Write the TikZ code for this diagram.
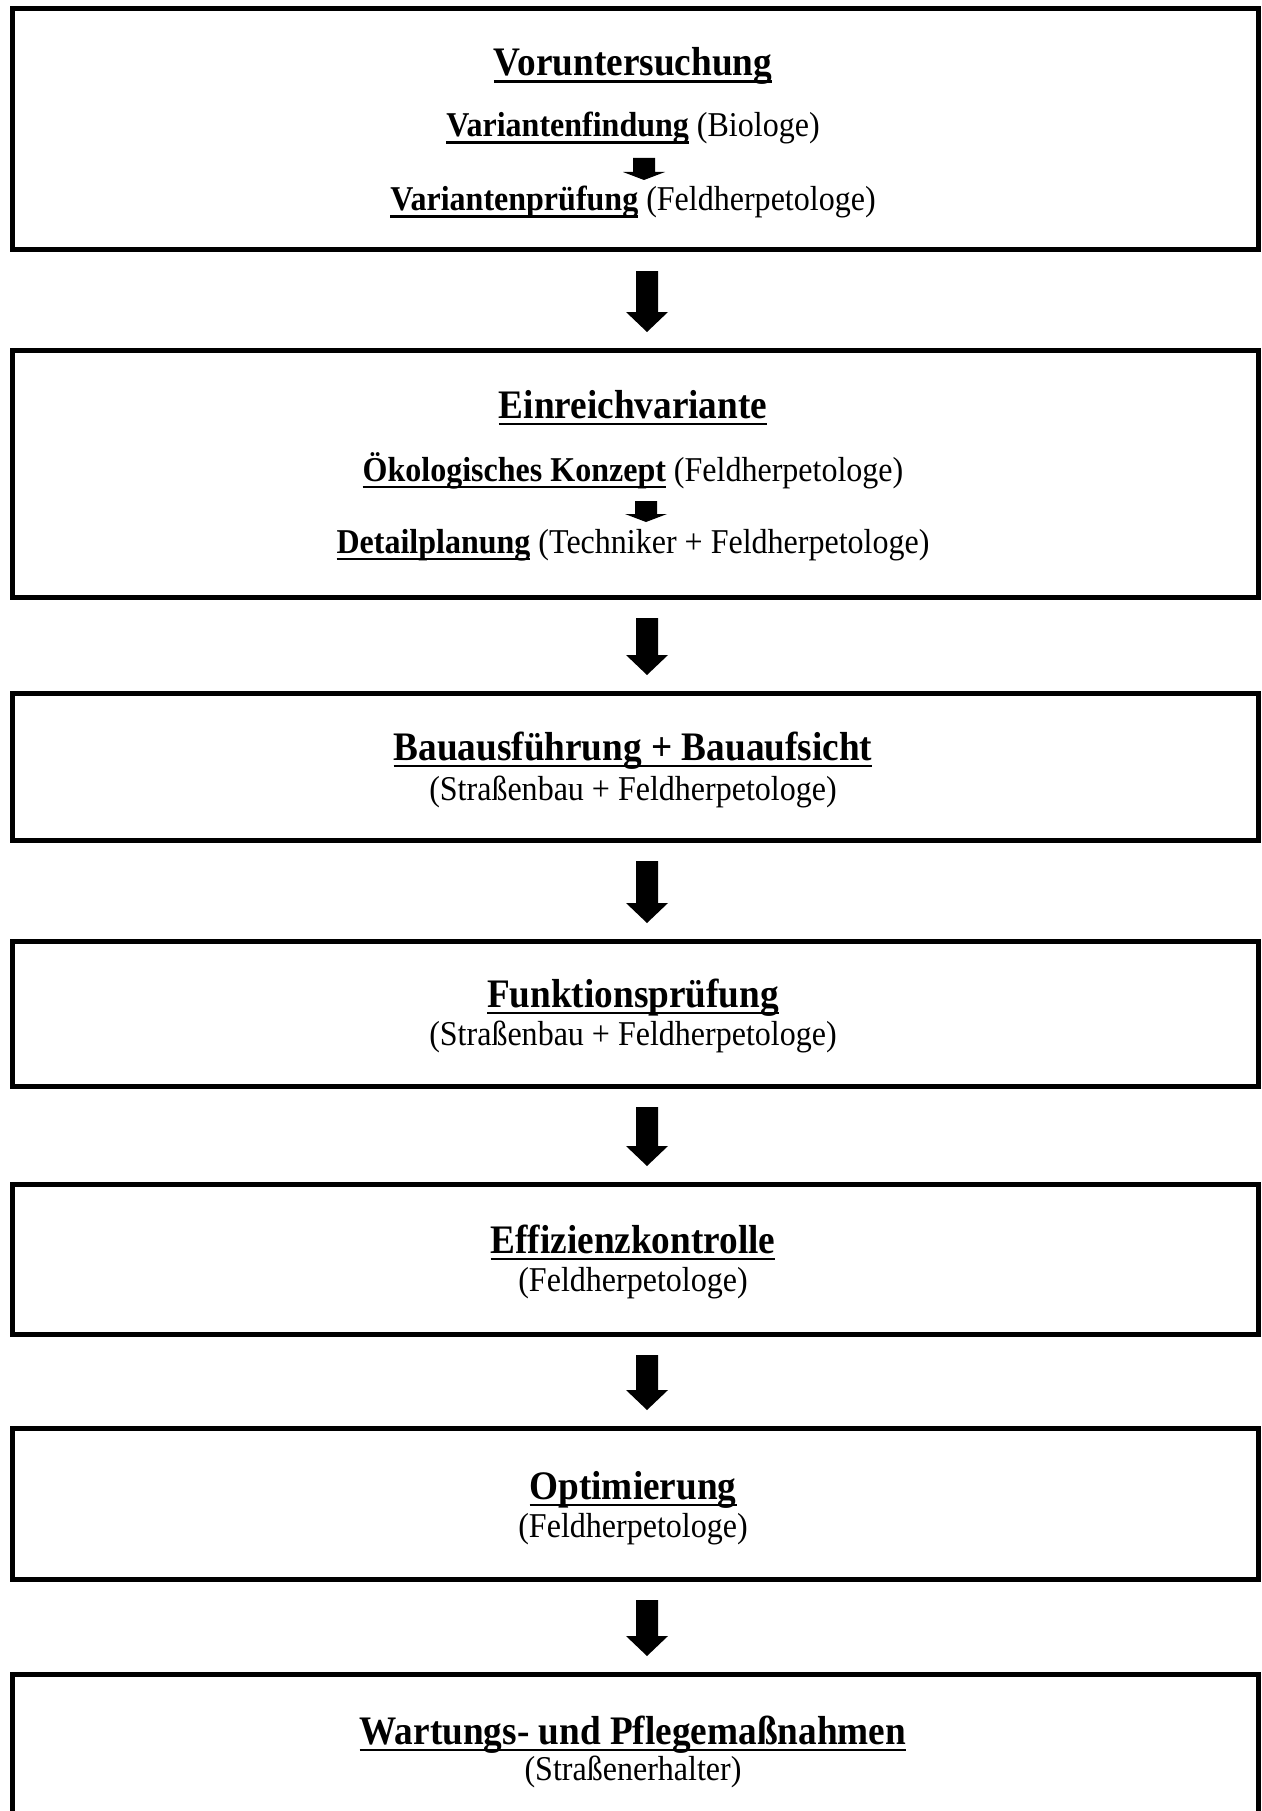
\documentclass[tikz,border=0pt]{standalone}
\usepackage{fontspec}
\setmainfont{Liberation Serif}[FakeStretch=0.92]
\newcommand{\myul}[1]{\setbox0=\hbox{#1}\dp0=0pt\vtop{\box0\kern4.5pt\hrule height 2.4pt}}
\usetikzlibrary{calc}
\newcommand{\bigarrow}[2]{%
  \fill let \p1=($(#1.south)+(12,21)$), \p2=($(#2.north)+(12,-18)$) in
    (\x1-11pt,\y1) -- (\x1+11pt,\y1) -- (\x1+11pt,\y2+20pt) -- (\x1+21pt,\y2+20pt)
    -- (\x1,\y2) -- (\x1-21pt,\y2+20pt) -- (\x1-11pt,\y2+20pt) -- cycle;}
\newcommand{\smallarrow}[2]{%
  \fill let \p1=(#1), \p2=(#2) in
    (\x1-11pt,\y1) -- (\x1+11pt,\y1) -- (\x1+11pt,\y2+8pt) -- (\x1+21pt,\y2+8pt)
    -- (\x1,\y2) -- (\x1-21pt,\y2+8pt) -- (\x1-11pt,\y2+8pt) -- cycle;}
\begin{document}
\begin{tikzpicture}[x=1pt,y=-1pt,
  box/.style={draw, line width=5pt, rectangle, inner sep=0pt, outer sep=0pt, minimum width=1246pt},
  ttl/.style={anchor=base, inner sep=0pt, font=\fontsize{40.5pt}{44pt}\selectfont\bfseries},
  sub/.style={anchor=base, inner sep=0pt, font=\fontsize{34.8pt}{38pt}\selectfont}]
\useasboundingbox (0,0) rectangle (1261,1811);
\fill[white] (0,0) rectangle (1261,1811);

% boxes
\node[box, minimum height=241pt] (b1) at (635,129.5) {};
\node[box, minimum height=247pt] (b2) at (635,473.5) {};
\node[box, minimum height=147pt] (b3) at (635,766.5) {};
\node[box, minimum height=145pt] (b4) at (635,1013.5) {};
\node[box, minimum height=150pt] (b5) at (635,1259) {};
\node[box, minimum height=151pt] (b6) at (635,1503.5) {};
\node[box, minimum height=151pt] (b7) at (635,1749.5) {};

% box 1
\node[ttl] (t1) at (633,76) {\myul{Voruntersuchung}};
\node[sub] (v1) at (633,137) {\myul{\textbf{Variantenfindung}} (Biologe)};
\node[sub] (v2) at (633,211) {\myul{\textbf{Variantenprüfung}} (Feldherpetologe)};
\coordinate (sa1t) at (644,158);
\coordinate (sa1b) at (644,180);
\smallarrow{sa1t}{sa1b}

% box 2
\node[ttl] (t2) at (633,418) {\myul{Einreichvariante}};
\node[sub] (e1) at (633,481) {\myul{\textbf{Ökologisches Konzept}} (Feldherpetologe)};
\node[sub] (e2) at (633,553) {\myul{\textbf{Detailplanung}} (Techniker + Feldherpetologe)};
\coordinate (sa2t) at (646,501);
\coordinate (sa2b) at (646,522);
\smallarrow{sa2t}{sa2b}

% box 3
\node[ttl] (t3) at (633,760) {\myul{Bauausführung + Bauaufsicht}};
\node[sub] (s3) at (633,800) {(Straßenbau + Feldherpetologe)};

% box 4
\node[ttl] (t4) at (633,1007) {\myul{Funktionsprüfung}};
\node[sub] (s4) at (633,1045) {(Straßenbau + Feldherpetologe)};

% box 5
\node[ttl] (t5) at (633,1253) {\myul{Effizienzkontrolle}};
\node[sub] (s5) at (633,1291) {(Feldherpetologe)};

% box 6
\node[ttl] (t6) at (633,1499) {\myul{Optimierung}};
\node[sub] (s6) at (633,1537) {(Feldherpetologe)};

% box 7
\node[ttl] (t7) at (633,1744) {\myul{Wartungs- und Pflegemaßnahmen}};
\node[sub] (s7) at (633,1780) {(Straßenerhalter)};

% arrows
\bigarrow{b1}{b2}
\bigarrow{b2}{b3}
\bigarrow{b3}{b4}
\bigarrow{b4}{b5}
\bigarrow{b5}{b6}
\bigarrow{b6}{b7}
\end{tikzpicture}
\end{document}
